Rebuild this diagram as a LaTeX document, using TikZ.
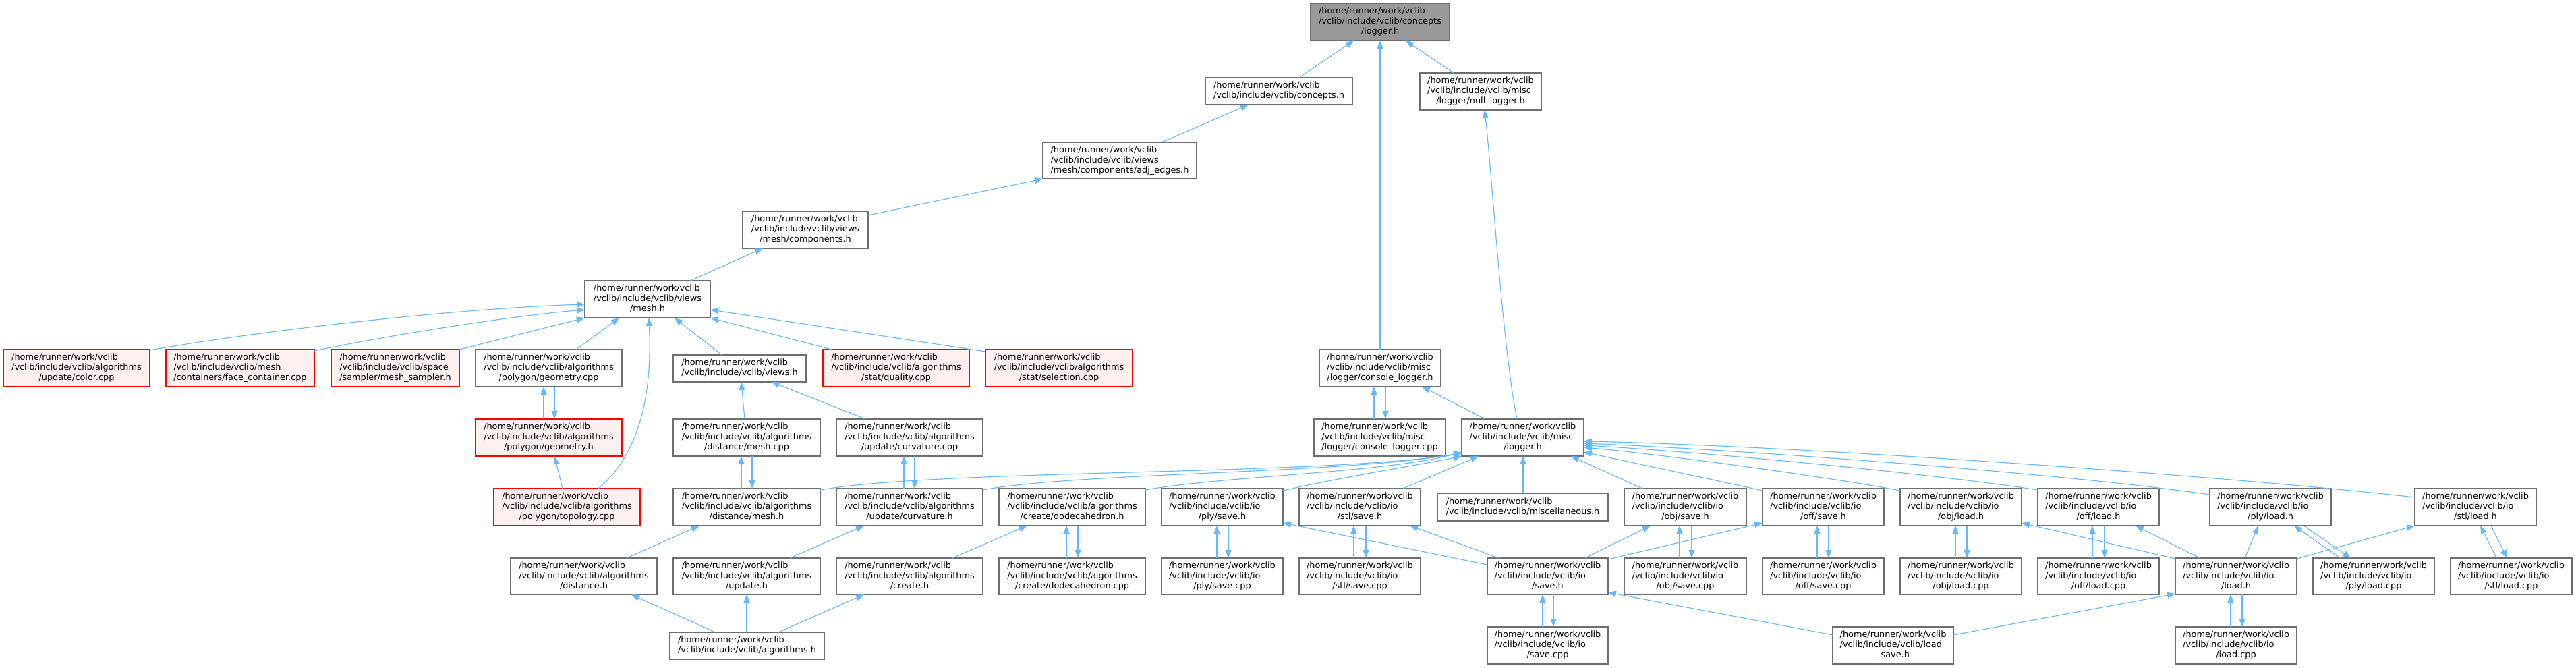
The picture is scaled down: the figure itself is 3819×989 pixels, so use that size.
\documentclass[tikz,border=0pt]{standalone}
\usepackage{fontspec}
\setmainfont{DejaVu Sans}
\usetikzlibrary{calc,arrows.meta}
\definecolor{eb}{HTML}{63B8FF}
\definecolor{gb}{HTML}{6E6E6E}
\definecolor{rb}{HTML}{FF0000}
\definecolor{rf}{HTML}{FFF0F0}
\definecolor{lf}{HTML}{999999}
\newcommand\xhm{/home/runner/work/vclib}
\newcommand\xal{/vclib/include/vclib/algorithms}
\newcommand\xio{/vclib/include/vclib/io}
\newcommand\xms{/vclib/include/vclib/misc}
\newcommand\xvw{/vclib/include/vclib/views}
\newcommand\tl[3]{\begin{tabular}{@{}l@{}}#1\\#2\\\multicolumn{1}{@{}c@{}}{#3}\end{tabular}}
\newcommand\tw[2]{\begin{tabular}{@{}l@{}}#1\\\multicolumn{1}{@{}c@{}}{#2}\end{tabular}}
\newcommand\bx[7]{\node[#2,minimum width=#5pt,minimum height=#6pt] (#1) at ({#3+#5/2},{#4+#6/2}) {#7};}
\begin{document}
\begin{tikzpicture}[x=1pt,y=-1pt,
 nbox/.style={draw=gb,fill=white,line width=1.2pt,inner sep=0pt,outer sep=0pt,font=\fontsize{12.85}{15}\selectfont},
 rbox/.style={nbox,draw=rb,fill=rf},
 gbox/.style={nbox,fill=lf},
 edge/.style={draw=eb,line width=1.1pt,-{Triangle[length=12pt,width=9pt]}}]
\useasboundingbox[fill=white] (0,0) rectangle (3819,989);
% nodes
\bx{logger}{gbox}{1943}{5}{206}{55}{\tl{\xhm}{/vclib/include/vclib/concepts}{/logger.h}}
\bx{concepts}{nbox}{1787}{115}{218}{40}{\tw{\xhm}{/vclib/include/vclib/concepts.h}}
\bx{nulllog}{nbox}{2105}{108}{180}{55}{\tl{\xhm}{\xms}{/logger/null\_logger.h}}
\bx{adj}{nbox}{1546}{211}{228}{54}{\tl{\xhm}{\xvw}{/mesh/components/adj\_edges.h}}
\bx{comps}{nbox}{1101}{313}{186}{55}{\tl{\xhm}{\xvw}{/mesh/components.h}}
\bx{meshh}{nbox}{867}{416}{186}{55}{\tl{\xhm}{\xvw}{/mesh.h}}
\bx{colorcpp}{rbox}{5}{518}{217}{55}{\tl{\xhm}{\xal}{/update/color.cpp}}
\bx{facec}{rbox}{246}{518}{220}{55}{\tl{\xhm}{/vclib/include/vclib/mesh}{/containers/face\_container.cpp}}
\bx{sampler}{rbox}{491}{518}{190}{55}{\tl{\xhm}{/vclib/include/vclib/space}{/sampler/mesh\_sampler.h}}
\bx{geocpp}{nbox}{705}{518}{217}{55}{\tl{\xhm}{\xal}{/polygon/geometry.cpp}}
\bx{views}{nbox}{998}{526}{197}{40}{\tw{\xhm}{/vclib/include/vclib/views.h}}
\bx{quality}{rbox}{1220}{518}{217}{55}{\tl{\xhm}{\xal}{/stat/quality.cpp}}
\bx{selection}{rbox}{1461}{518}{218}{55}{\tl{\xhm}{\xal}{/stat/selection.cpp}}
\bx{conslogh}{nbox}{1956}{518}{180}{55}{\tl{\xhm}{\xms}{/logger/console\_logger.h}}
\bx{geoh}{rbox}{705}{621}{217}{55}{\tl{\xhm}{\xal}{/polygon/geometry.h}}
\bx{distcpp}{nbox}{998}{621}{218}{55}{\tl{\xhm}{\xal}{/distance/mesh.cpp}}
\bx{curvcpp}{nbox}{1240}{621}{217}{55}{\tl{\xhm}{\xal}{/update/curvature.cpp}}
\bx{conslogcpp}{nbox}{1948}{621}{195}{55}{\tl{\xhm}{\xms}{/logger/console\_logger.cpp}}
\bx{misclog}{nbox}{2167}{621}{181}{55}{\tl{\xhm}{\xms}{/logger.h}}
\bx{topo}{rbox}{732}{724}{217}{55}{\tl{\xhm}{\xal}{/polygon/topology.cpp}}
\bx{distmeshh}{nbox}{998}{724}{218}{55}{\tl{\xhm}{\xal}{/distance/mesh.h}}
\bx{curvh}{nbox}{1240}{724}{217}{55}{\tl{\xhm}{\xal}{/update/curvature.h}}
\bx{dodeh}{nbox}{1481}{724}{217}{55}{\tl{\xhm}{\xal}{/create/dodecahedron.h}}
\bx{plysaveh}{nbox}{1722}{724}{180}{55}{\tl{\xhm}{\xio}{/ply/save.h}}
\bx{stlsaveh}{nbox}{1926}{724}{180}{55}{\tl{\xhm}{\xio}{/stl/save.h}}
\bx{miscell}{nbox}{2131}{731}{253}{41}{\tw{\xhm}{/vclib/include/vclib/miscellaneous.h}}
\bx{objsaveh}{nbox}{2408}{724}{181}{55}{\tl{\xhm}{\xio}{/obj/save.h}}
\bx{offsaveh}{nbox}{2613}{724}{180}{55}{\tl{\xhm}{\xio}{/off/save.h}}
\bx{objloadh}{nbox}{2817}{724}{180}{55}{\tl{\xhm}{\xio}{/obj/load.h}}
\bx{offloadh}{nbox}{3021}{724}{180}{55}{\tl{\xhm}{\xio}{/off/load.h}}
\bx{plyloadh}{nbox}{3276}{724}{180}{55}{\tl{\xhm}{\xio}{/ply/load.h}}
\bx{stlloadh}{nbox}{3580}{724}{180}{55}{\tl{\xhm}{\xio}{/stl/load.h}}
\bx{distanceh}{nbox}{757}{827}{217}{54}{\tl{\xhm}{\xal}{/distance.h}}
\bx{updateh}{nbox}{998}{827}{218}{54}{\tl{\xhm}{\xal}{/update.h}}
\bx{createh}{nbox}{1240}{827}{217}{54}{\tl{\xhm}{\xal}{/create.h}}
\bx{dodecpp}{nbox}{1481}{827}{217}{54}{\tl{\xhm}{\xal}{/create/dodecahedron.cpp}}
\bx{plysavecpp}{nbox}{1722}{827}{180}{54}{\tl{\xhm}{\xio}{/ply/save.cpp}}
\bx{stlsavecpp}{nbox}{1926}{827}{180}{54}{\tl{\xhm}{\xio}{/stl/save.cpp}}
\bx{iosaveh}{nbox}{2205}{827}{179}{54}{\tl{\xhm}{\xio}{/save.h}}
\bx{objsavecpp}{nbox}{2408}{827}{181}{54}{\tl{\xhm}{\xio}{/obj/save.cpp}}
\bx{offsavecpp}{nbox}{2613}{827}{180}{54}{\tl{\xhm}{\xio}{/off/save.cpp}}
\bx{objloadcpp}{nbox}{2817}{827}{180}{54}{\tl{\xhm}{\xio}{/obj/load.cpp}}
\bx{offloadcpp}{nbox}{3021}{827}{180}{54}{\tl{\xhm}{\xio}{/off/load.cpp}}
\bx{ioloadh}{nbox}{3225}{827}{180}{54}{\tl{\xhm}{\xio}{/load.h}}
\bx{plyloadcpp}{nbox}{3429}{827}{180}{54}{\tl{\xhm}{\xio}{/ply/load.cpp}}
\bx{stlloadcpp}{nbox}{3633}{827}{180}{54}{\tl{\xhm}{\xio}{/stl/load.cpp}}
\bx{algos}{nbox}{993}{937}{229}{40}{\tw{\xhm}{/vclib/include/vclib/algorithms.h}}
\bx{iosavecpp}{nbox}{2205}{929}{179}{55}{\tl{\xhm}{\xio}{/save.cpp}}
\bx{loadsave}{nbox}{2717}{929}{179}{55}{\tl{\xhm}{/vclib/include/vclib/load}{\_save.h}}
\bx{ioloadcpp}{nbox}{3225}{929}{180}{55}{\tl{\xhm}{\xio}{/load.cpp}}
% edges top
\draw[edge] ($(concepts.north west)+(139,0)$) -- ($(logger.south west)+(64,0)$);
\draw[edge] ($(conslogh.north west)+(90,0)$) -- ($(logger.south west)+(103,0)$);
\draw[edge] ($(nulllog.north west)+(50,0)$) -- ($(logger.south west)+(141,0)$);
\draw[edge] ($(adj.north west)+(176,0)$) -- ($(concepts.south west)+(64,0)$);
\draw[edge] ($(comps.north east)+(0,6)$) -- (adj.south west);
\draw[edge] ($(meshh.north west)+(156,0)$) -- ($(comps.south west)+(30,0)$);
% mesh.h fan
\draw[edge] ($(colorcpp.north east)+(0,1)$) .. controls (410,486) and (700,456) .. ($(meshh.north west)+(0,35)$);
\draw[edge] ($(facec.north east)+(0,2)$) .. controls (580,496) and (760,468) .. ($(meshh.north west)+(0,43)$);
\draw[edge] (sampler.north east) -- (meshh.south west);
\draw[edge] ($(geocpp.north west)+(149,0)$) -- ($(meshh.south west)+(51,0)$);
\draw[edge] ($(topo.north west)+(155,0)$) .. controls (958,665) and (966,560) .. ($(meshh.south west)+(95,0)$);
\draw[edge] ($(views.north west)+(72,0)$) -- ($(meshh.south west)+(133,0)$);
\draw[edge] ($(quality.north west)+(13,0)$) -- (meshh.south east);
\draw[edge] ($(selection.north west)+(0,3)$) -- ($(meshh.north east)+(0,43)$);
% polygon
\draw[edge] ($(geoh.north west)+(101,0)$) -- ($(geocpp.south west)+(101,0)$);
\draw[edge] ($(geocpp.south west)+(117,0)$) -- ($(geoh.north west)+(117,0)$);
\draw[edge] ($(topo.north west)+(102,0)$) -- ($(geoh.south west)+(117,0)$);
% views
\draw[edge] ($(distcpp.north west)+(106,0)$) -- ($(views.south west)+(101,0)$);
\draw[edge] ($(curvcpp.north west)+(43,0)$) -- ($(views.south west)+(146,0)$);
\draw[edge] ($(distmeshh.north west)+(101,0)$) -- ($(distcpp.south west)+(101,0)$);
\draw[edge] ($(distcpp.south west)+(117,0)$) -- ($(distmeshh.north west)+(117,0)$);
\draw[edge] ($(curvh.north west)+(100,0)$) -- ($(curvcpp.south west)+(100,0)$);
\draw[edge] ($(curvcpp.south west)+(116,0)$) -- ($(curvh.north west)+(116,0)$);
\draw[edge] ($(dodecpp.north west)+(100,0)$) -- ($(dodeh.south west)+(100,0)$);
\draw[edge] ($(dodeh.south west)+(117,0)$) -- ($(dodecpp.north west)+(117,0)$);
\draw[edge] ($(plysavecpp.north west)+(82,0)$) -- ($(plysaveh.south west)+(82,0)$);
\draw[edge] ($(plysaveh.south west)+(99,0)$) -- ($(plysavecpp.north west)+(99,0)$);
\draw[edge] ($(distanceh.north west)+(172,0)$) -- ($(distmeshh.south west)+(39,0)$);
\draw[edge] ($(updateh.north west)+(173,0)$) -- ($(curvh.south west)+(41,0)$);
\draw[edge] ($(createh.north west)+(172,0)$) -- ($(dodeh.south west)+(42,0)$);
\draw[edge] ($(algos.north west)+(114,0)$) -- ($(updateh.south west)+(109,0)$);
\draw[edge] ($(algos.north west)+(161,0)$) -- ($(createh.south west)+(41,0)$);
\draw[edge] ($(algos.north west)+(67,0)$) -- ($(distanceh.south west)+(179,0)$);
% misc logger
\draw[edge] ($(misclog.north west)+(82,0)$) .. controls (2228,520) and (2212,260) .. ($(nulllog.south west)+(96,0)$);
\draw[edge] ($(misclog.north west)+(35,0)$) -- ($(conslogh.south west)+(152,0)$);
\draw[edge] ($(conslogcpp.north west)+(89,0)$) -- ($(conslogh.south west)+(81,0)$);
\draw[edge] ($(conslogh.south west)+(98,0)$) -- ($(conslogcpp.north west)+(106,0)$);
\draw[edge] ($(distmeshh.north east)+(0,2)$) .. controls (1400,695) and (1950,705) .. ($(misclog.south west)+(0,-4)$);
\draw[edge] ($(curvh.north east)+(0,2)$) .. controls (1600,700) and (2000,702) .. ($(misclog.south west)+(0,-5)$);
\draw[edge] ($(dodeh.north east)+(0,2)$) .. controls (1820,705) and (2060,700) .. ($(misclog.south west)+(0,-6)$);
\draw[edge] ($(plysaveh.north east)+(0,3)$) .. controls (2000,705) and (2110,688) .. (misclog.south west);
\draw[edge] ($(stlsaveh.north west)+(154,0)$) -- ($(misclog.south west)+(25,0)$);
\draw[edge] ($(miscell.north west)+(127,0)$) -- ($(misclog.south west)+(91,0)$);
\draw[edge] ($(objsaveh.north west)+(27,0)$) -- ($(misclog.south west)+(162,0)$);
\draw[edge] ($(offsaveh.north west)+(0,3)$) -- ($(misclog.north east)+(0,49)$);
\draw[edge] ($(objloadh.north west)+(0,3)$) .. controls (2700,705) and (2450,672) .. ($(misclog.north east)+(0,42)$);
\draw[edge] ($(offloadh.north west)+(0,2)$) .. controls (2850,700) and (2500,668) .. ($(misclog.north east)+(0,39)$);
\draw[edge] ($(plyloadh.north west)+(0,9)$) .. controls (3050,700) and (2550,665) .. ($(misclog.north east)+(0,36)$);
\draw[edge] ($(stlloadh.north west)+(0,13)$) .. controls (3300,705) and (2650,660) .. ($(misclog.north east)+(0,33)$);
% save
\draw[edge] ($(iosaveh.north west)+(0,10)$) -- ($(plysaveh.south east)+(0,-4)$);
\draw[edge] ($(iosaveh.north west)+(17,0)$) -- ($(stlsaveh.south west)+(164,0)$);
\draw[edge] ($(iosaveh.north west)+(145,0)$) -- ($(objsaveh.south west)+(39,0)$);
\draw[edge] ($(iosaveh.north east)+(0,2)$) -- ($(offsaveh.south west)+(0,-4)$);
\draw[edge] ($(iosavecpp.north west)+(82,0)$) -- ($(iosaveh.south west)+(82,0)$);
\draw[edge] ($(iosaveh.south west)+(98,0)$) -- ($(iosavecpp.north west)+(98,0)$);
\draw[edge] ($(stlsavecpp.north west)+(81,0)$) -- ($(stlsaveh.south west)+(81,0)$);
\draw[edge] ($(stlsaveh.south west)+(99,0)$) -- ($(stlsavecpp.north west)+(99,0)$);
\draw[edge] ($(objsavecpp.north west)+(82,0)$) -- ($(objsaveh.south west)+(82,0)$);
\draw[edge] ($(objsaveh.south west)+(100,0)$) -- ($(objsavecpp.north west)+(100,0)$);
\draw[edge] ($(offsavecpp.north west)+(81,0)$) -- ($(offsaveh.south west)+(81,0)$);
\draw[edge] ($(offsaveh.south west)+(98,0)$) -- ($(offsavecpp.north west)+(98,0)$);
\draw[edge] ($(loadsave.north west)+(0,12)$) -- ($(iosaveh.south east)+(0,-3)$);
\draw[edge] ($(loadsave.north east)+(0,12)$) -- ($(ioloadh.south west)+(0,-1)$);
% load
\draw[edge] ($(objloadcpp.north west)+(82,0)$) -- ($(objloadh.south west)+(82,0)$);
\draw[edge] ($(objloadh.south west)+(99,0)$) -- ($(objloadcpp.north west)+(99,0)$);
\draw[edge] ($(offloadcpp.north west)+(81,0)$) -- ($(offloadh.south west)+(81,0)$);
\draw[edge] ($(offloadh.south west)+(99,0)$) -- ($(offloadcpp.north west)+(99,0)$);
\draw[edge] ($(ioloadcpp.north west)+(82,0)$) -- ($(ioloadh.south west)+(82,0)$);
\draw[edge] ($(ioloadh.south west)+(99,0)$) -- ($(ioloadcpp.north west)+(99,0)$);
\draw[edge] ($(ioloadh.north west)+(0,1)$) -- ($(objloadh.south east)+(0,-4)$);
\draw[edge] ($(ioloadh.north west)+(36,0)$) -- ($(offloadh.south west)+(145,0)$);
\draw[edge] ($(ioloadh.north west)+(103,0)$) -- ($(plyloadh.south west)+(72,0)$);
\draw[edge] ($(ioloadh.north east)+(0,1)$) -- (stlloadh.south west);
\draw[edge] ($(plyloadcpp.north west)+(40,0)$) -- ($(plyloadh.south west)+(125,0)$);
\draw[edge] ($(plyloadh.south west)+(139,0)$) -- ($(plyloadcpp.north west)+(56,0)$);
\draw[edge] ($(stlloadcpp.north west)+(68,0)$) -- ($(stlloadh.south west)+(97,0)$);
\draw[edge] ($(stlloadh.south west)+(113,0)$) -- ($(stlloadcpp.north west)+(84,0)$);
\end{tikzpicture}
\end{document}
